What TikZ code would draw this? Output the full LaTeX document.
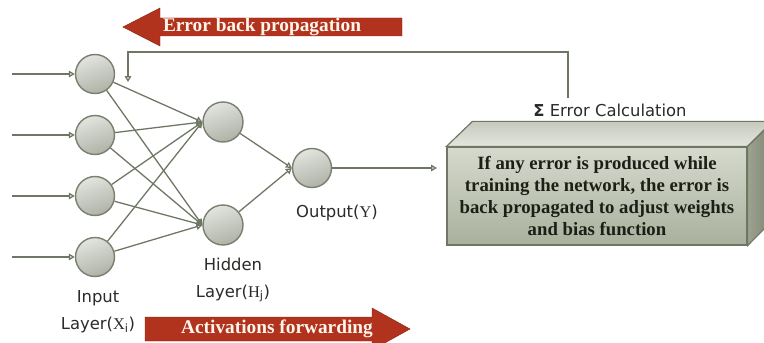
\documentclass[tikz,border=0pt]{standalone}
\usepackage{fontspec}
\setmainfont{Liberation Serif}
\setsansfont{DejaVu Sans}
\usetikzlibrary{arrows.meta}
\definecolor{edgec}{HTML}{6E7763}
\definecolor{nodeborder}{HTML}{7A8070}
\definecolor{nodetop}{HTML}{E2E4DE}
\definecolor{nodebot}{HTML}{AEB2A6}
\definecolor{redarrow}{HTML}{B1321D}
\definecolor{labelc}{HTML}{2A2C28}
\definecolor{boxtext}{HTML}{1C1F16}
\definecolor{boxedge}{HTML}{6F7664}
\definecolor{fronttop}{HTML}{D6DACE}
\definecolor{frontbot}{HTML}{A9B09C}
\definecolor{topback}{HTML}{C6CABD}
\definecolor{topfront}{HTML}{E3E6DD}
\definecolor{sideface}{HTML}{9CA38F}
\tikzset{
  neuron/.style={circle, draw=nodeborder, line width=1.2pt, minimum size=1.17cm, inner sep=0pt,
    top color=nodetop, bottom color=nodebot, shading angle=20},
  conn/.style={draw=edgec, line width=1.1pt, -{Triangle[open, length=5pt, width=5.5pt]}},
  lbl/.style={font=\sffamily\fontsize{14}{23}\selectfont, text=labelc, align=center, inner sep=0pt},
  bigarrow/.style={fill=redarrow, draw=redarrow!80!black, line width=0.4pt},
  arrowtext/.style={font=\bfseries\fontsize{16.5}{18}\selectfont, text=white!92!orange, inner sep=0pt},
}
\begin{document}
\begin{tikzpicture}[x=0.03cm, y=-0.03cm]
\useasboundingbox (0,0) rectangle (764,343);
\clip (0,0) rectangle (764,343);
\fill[white] (0,0) rectangle (764,343);

% red arrows
\fill[bigarrow] (402,18) -- (160,18) -- (160,8) -- (123,27) -- (160,46) -- (160,36) -- (402,36) -- cycle;
\node[arrowtext] (backlbl) at (262,27) {Error back propagation};
\fill[bigarrow] (145,317) -- (372,317) -- (372,308) -- (410,329) -- (372,350) -- (372,341) -- (145,341) -- cycle;
\node[arrowtext] (fwdlbl) at (277,329) {Activations forwarding};

% neurons
\node[neuron] (i1) at (95,74) {};
\node[neuron] (i2) at (95,135) {};
\node[neuron] (i3) at (95,196) {};
\node[neuron] (i4) at (95,257) {};
\node[neuron, minimum size=1.2cm] (h1) at (223,122) {};
\node[neuron, minimum size=1.2cm] (h2) at (223,225) {};
\node[neuron] (o) at (312,168) {};

% input lines
\foreach \k/\y in {1/74,2/135,3/196,4/257}{
  \coordinate (s\k) at (12,\y);
  \draw[conn] (s\k) -- (i\k.west);
}
% input -> hidden
\foreach \k in {1,2,3,4}{
  \draw[conn] (i\k) -- (h1.west);
  \draw[conn] (i\k) -- (h2.west);
}
\draw[conn] (h1) -- (o.west);
\draw[conn] (h2) -- (o.west);

% box
\node[draw=boxedge, line width=1pt, minimum width=9cm, minimum height=2.94cm,
  top color=fronttop, bottom color=frontbot, inner sep=0pt,
  font=\bfseries\fontsize{16}{18.8}\selectfont, text=boxtext, align=center] (box) at (597,196)
  {If any error is produced while\\training the network, the error is\\back propagated to adjust weights\\and bias function};
\draw[boxedge, line width=1pt, top color=topback, bottom color=topfront]
  (box.north west) -- ++(26,-25) -- ++(300,0) -- (box.north east) -- cycle;
\draw[boxedge, line width=1pt, left color=sideface, right color=sideface!80!black]
  (box.north east) -- ++(26,-25) -- ++(0,98) -- (box.south east) -- cycle;

% output -> box
\coordinate (oend) at (437,168);
\draw[conn] (o) -- (oend);

% labels
\node[lbl] (calc) at (610,110) {\textbf{Σ} Error Calculation};
\node[lbl] (outlbl) at (337,213) {Output(\textrm{Y})};
\node[lbl] (hidlbl) at (233,280) {Hidden\\Layer(\textrm{H}\textsubscript{j})};
\node[lbl] (inlbl) at (98,312) {Input\\Layer(\textrm{X}\textsubscript{i})};

% feedback
\coordinate (fbstart) at (568,98);
\coordinate (fbcorner) at (128,52);
\coordinate (fbend) at (128,82);
\draw[conn] (fbstart) |- (fbcorner) -- (fbend);
\end{tikzpicture}
\end{document}
